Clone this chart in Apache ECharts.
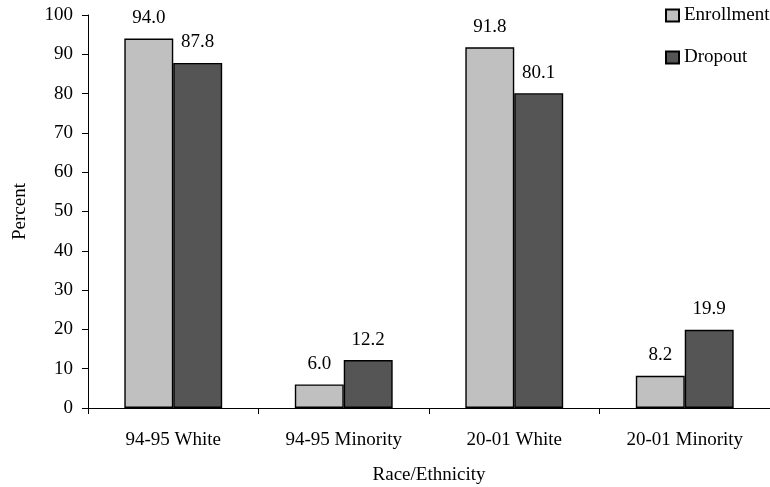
<!DOCTYPE html>
<html><head><meta charset="utf-8">
<script src="https://cdn.jsdelivr.net/npm/echarts@6/dist/echarts.min.js"></script>
<style>html,body{margin:0;padding:0;background:#fff;overflow:hidden}#c{width:770px;height:487px}</style>
</head><body><div id="c"></div>
<script>
const categories = ['94-95 White', '94-95 Minority', '20-01 White', '20-01 Minority'];
const enrollment = [94.0, 6.0, 91.8, 8.2];
const dropout = [87.8, 12.2, 80.1, 19.9];
const yTicks = [0, 10, 20, 30, 40, 50, 60, 70, 80, 90, 100];

const font = 'Liberation Serif, Times New Roman, serif';
const fs = 19;
const chart = echarts.init(document.getElementById('c'), null, {renderer: 'canvas', width: 770, height: 487});
const lbl = {show: true, position: 'top', distance: 11, color: '#000', fontFamily: font, fontSize: fs,
  formatter: p => p.value.toFixed(1)};
chart.setOption({
  animation: false,
  textStyle: {fontFamily: font},
  grid: {left: 88, width: 682, top: 15, height: 393, containLabel: false, outerBoundsMode: 'none'},
  legend: {
    orient: 'vertical', left: 665, top: 6, padding: 0, itemGap: 23, itemWidth: 13, itemHeight: 12,
    icon: 'rect',
    textStyle: {fontFamily: font, fontSize: fs, color: '#000'},
    data: ['Enrollment', 'Dropout']
  },
  xAxis: {
    type: 'category', data: categories,
    name: 'Race/Ethnicity', nameLocation: 'middle', nameGap: 58,
    nameTextStyle: {fontFamily: font, fontSize: fs, color: '#000'},
    axisLine: {lineStyle: {color: '#000', width: 1}},
    axisTick: {show: true, inside: false, length: 6, lineStyle: {color: '#000'}},
    axisLabel: {color: '#000', fontFamily: font, fontSize: fs, margin: 23}
  },
  yAxis: {
    type: 'value', min: 0, max: 100, interval: 10,
    name: 'Percent', nameLocation: 'middle', nameGap: 58, nameRotate: 90,
    nameTextStyle: {fontFamily: font, fontSize: fs, color: '#000'},
    axisLine: {show: true, lineStyle: {color: '#000', width: 1}},
    axisTick: {show: true, inside: false, length: 6, lineStyle: {color: '#000'}},
    splitLine: {show: false},
    axisLabel: {color: '#000', fontFamily: font, fontSize: fs, margin: 15,
      formatter: v => yTicks.includes(v) ? String(v) : ''}
  },
  series: [
    {name: 'Enrollment', type: 'bar', data: enrollment, barWidth: '28.7%', barGap: '0%',
     itemStyle: {color: '#c0c0c0', borderColor: '#000', borderWidth: 1.4}, label: lbl},
    {name: 'Dropout', type: 'bar', data: dropout, barWidth: '28.7%', barGap: '0%',
     itemStyle: {color: '#555555', borderColor: '#000', borderWidth: 1.4}, label: lbl}
  ]
});
</script></body></html>
